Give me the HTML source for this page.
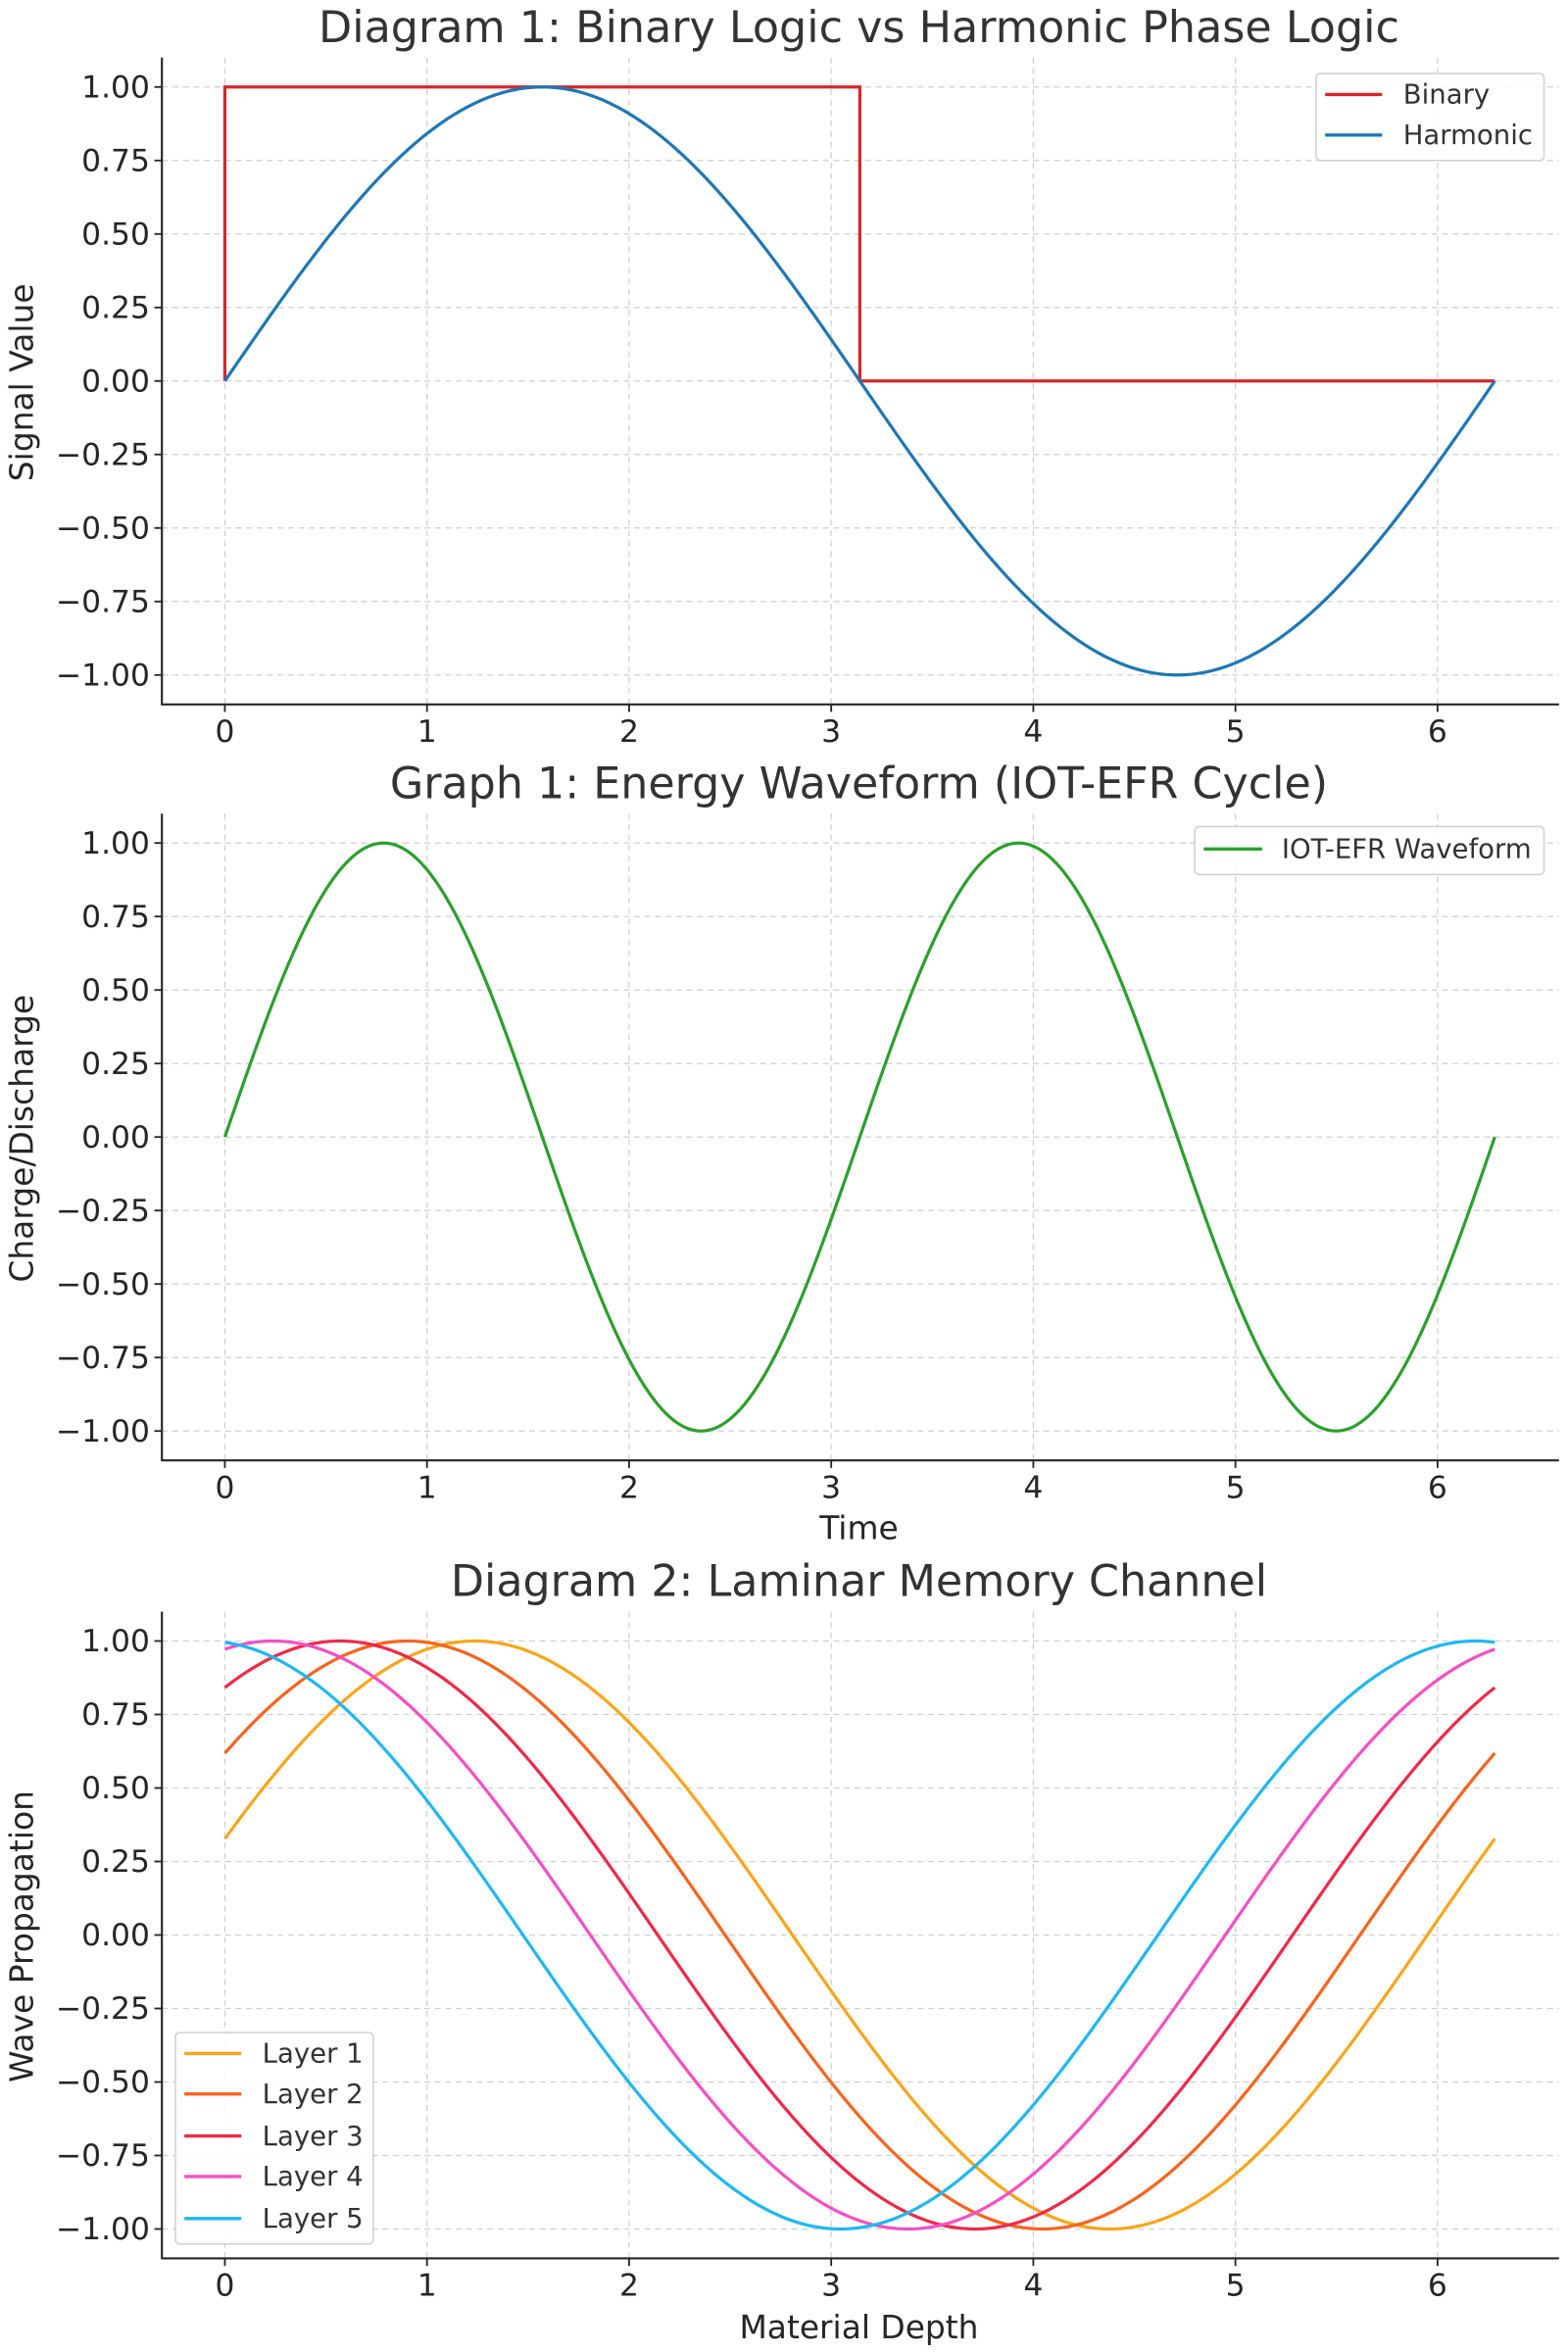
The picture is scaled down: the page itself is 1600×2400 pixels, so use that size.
<!DOCTYPE html>
<html><head><meta charset="utf-8"><style>
html,body{margin:0;padding:0;background:#fff}
svg{display:block}
text{font-family:"DejaVu Sans","Liberation Sans",sans-serif;fill:#262626}
.t{font-size:20.5px}
.al{font-size:21.5px}
.ti{font-size:29px;fill:#333}
.lg{font-size:18px;fill:#333}
</style></head><body>
<svg id="s" width="1600" height="2400" viewBox="0 0 1046 1568" preserveAspectRatio="none" xmlns="http://www.w3.org/2000/svg">
<g id="grid"></g>
<g id="series"></g>
<g id="axes"></g>
<text class="ti" x="573" y="28" text-anchor="middle" textLength="721" lengthAdjust="spacingAndGlyphs">Diagram 1: Binary Logic vs Harmonic Phase Logic</text>
<text class="ti" x="573" y="532" text-anchor="middle">Graph 1: Energy Waveform (IOT-EFR Cycle)</text>
<text class="ti" x="573" y="1064" text-anchor="middle">Diagram 2: Laminar Memory Channel</text>
<text class="al" transform="translate(22,255) rotate(-90)" text-anchor="middle">Signal Value</text>
<text class="al" transform="translate(22,759) rotate(-90)" text-anchor="middle">Charge/Discharge</text>
<text class="al" transform="translate(22,1291) rotate(-90)" text-anchor="middle">Wave Propagation</text>
<text class="al" x="573" y="1026" text-anchor="middle">Time</text>
<text class="al" x="573" y="1559" text-anchor="middle">Material Depth</text>
<g id="ticks"></g>
<rect x="878" y="49" width="152" height="58" rx="3" fill="#fff" fill-opacity="0.85" stroke="#d0d0d0" stroke-width="1"/>
<line x1="884" y1="63" x2="922" y2="63" stroke="#d62728" stroke-width="2.2"/>
<line x1="884" y1="90" x2="922" y2="90" stroke="#1f77b4" stroke-width="2.2"/>
<text class="lg" x="936" y="69">Binary</text>
<text class="lg" x="936" y="96">Harmonic</text>
<rect x="797" y="551" width="233" height="32" rx="3" fill="#fff" fill-opacity="0.85" stroke="#d0d0d0" stroke-width="1"/>
<line x1="803" y1="566" x2="842" y2="566" stroke="#2ca02c" stroke-width="2.2"/>
<text class="lg" x="855" y="572">IOT-EFR Waveform</text>
<rect x="117" y="1355" width="132" height="141" rx="3" fill="#fff" fill-opacity="0.85" stroke="#d0d0d0" stroke-width="1"/>
<g id="leg3"></g>
<text class="lg" x="175" y="1375">Layer 1</text>
<text class="lg" x="175" y="1402">Layer 2</text>
<text class="lg" x="175" y="1430">Layer 3</text>
<text class="lg" x="175" y="1457">Layer 4</text>
<text class="lg" x="175" y="1485">Layer 5</text>
</svg>
<script>
(function(){
var NS="http://www.w3.org/2000/svg";
function el(p,n,a){var e=document.createElementNS(NS,n);for(var k in a)e.setAttribute(k,a[k]);document.getElementById(p).appendChild(e);return e;}
var X=function(x){return 150+x*134.83;};
var centers=[254,758,1290];
var L=108,R=1040;
var yl=["1.00","0.75","0.50","0.25","0.00","\u22120.25","\u22120.50","\u22120.75","\u22121.00"];
centers.forEach(function(c,pi){
  var top=c-215.6,bot=c+215.6;
  for(var i=0;i<9;i++){var v=1-i*0.25,y=c-196*v;
    el("grid","line",{x1:L,x2:R,y1:y,y2:y,stroke:"#cfcfcf","stroke-width":0.8,"stroke-dasharray":"4,3"});
    el("axes","line",{x1:L-5,x2:L,y1:y,y2:y,stroke:"#262626","stroke-width":1.2});
    var t=el("ticks","text",{x:100,y:y+7,"text-anchor":"end","class":"t"});t.textContent=yl[i];
  }
  for(var j=0;j<=6;j++){var x=X(j);
    el("grid","line",{x1:x,x2:x,y1:top,y2:bot,stroke:"#cfcfcf","stroke-width":0.8,"stroke-dasharray":"4,3"});
    el("axes","line",{x1:x,x2:x,y1:bot,y2:bot+5,stroke:"#262626","stroke-width":1.2});
    var t2=el("ticks","text",{x:x,y:bot+25,"text-anchor":"middle","class":"t"});t2.textContent=String(j);
  }
  el("axes","line",{x1:L,x2:L,y1:top,y2:bot+0.6,stroke:"#262626","stroke-width":1.4});
  el("axes","line",{x1:L,x2:R,y1:bot,y2:bot,stroke:"#262626","stroke-width":1.4});
});
function curve(f,c,col){var d="",N=400,T=2*Math.PI;for(var i=0;i<=N;i++){var x=T*i/N;d+=(i?"L":"M")+X(x).toFixed(2)+","+(c-196*f(x)).toFixed(2);}
  el("series","path",{d:d,fill:"none",stroke:col,"stroke-width":2.1,"stroke-linejoin":"round"});}
var c=254,pi=Math.PI;
el("series","path",{d:"M"+X(0)+","+c+"L"+X(0)+","+(c-196)+"L"+X(pi)+","+(c-196)+"L"+X(pi)+","+c+"L"+X(2*pi)+","+c,fill:"none",stroke:"#d62728","stroke-width":2.1});
curve(Math.sin,254,"#1f77b4");
curve(function(x){return Math.sin(2*x);},758,"#2ca02c");
var cols=["#f9a51a","#f7641e","#f0284a","#f54fc3","#20b7f2"];
cols.forEach(function(col,i){curve(function(x){return Math.sin(x+(i+1)/3);},1290,col);
  var y=[1369,1396,1424,1451,1479][i];
  el("leg3","line",{x1:123,x2:161,y1:y,y2:y,stroke:col,"stroke-width":2.2});});
})();
</script>
</body></html>
